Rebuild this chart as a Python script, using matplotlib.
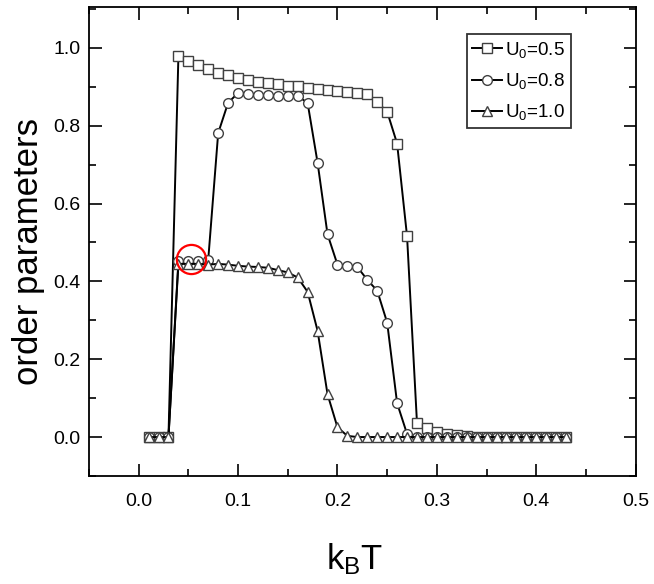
import numpy as np
import matplotlib.pyplot as plt
from matplotlib.ticker import MultipleLocator

plt.rcParams['font.family'] = ['Liberation Sans', 'DejaVu Sans']
plt.rcParams['mathtext.fontset'] = 'custom'
plt.rcParams['mathtext.rm'] = 'Liberation Sans'
plt.rcParams['mathtext.it'] = 'Liberation Sans'

kbt = [round(0.01 * i, 2) for i in range(1, 44)]

u05 = [0, 0, 0, 0.979, 0.965, 0.956, 0.945, 0.936, 0.930, 0.923,
       0.917, 0.912, 0.909, 0.906, 0.903, 0.901, 0.897, 0.894, 0.892, 0.890,
       0.887, 0.885, 0.881, 0.860, 0.836, 0.754, 0.516, 0.036, 0.024, 0.014,
       0.009, 0.005, 0.003, 0, 0, 0, 0, 0, 0, 0,
       0, 0, 0]
u08 = [0, 0, 0, 0.452, 0.452, 0.452, 0.456, 0.781, 0.859, 0.884,
       0.882, 0.880, 0.879, 0.877, 0.877, 0.877, 0.858, 0.705, 0.521, 0.443,
       0.440, 0.437, 0.404, 0.376, 0.294, 0.087, 0.008, 0, 0, 0,
       0, 0, 0, 0, 0, 0, 0, 0, 0, 0,
       0, 0, 0]
u10 = [0, 0, 0, 0.445, 0.445, 0.445, 0.443, 0.445, 0.443, 0.440,
       0.438, 0.437, 0.435, 0.429, 0.423, 0.410, 0.373, 0.273, 0.110, 0.025,
       0.003, 0, 0, 0, 0, 0, 0, 0, 0, 0,
       0, 0, 0, 0, 0, 0, 0, 0, 0, 0,
       0, 0, 0]

labels = ['U$_0$=0.5', 'U$_0$=0.8', 'U$_0$=1.0']
markers = ['s', 'o', '^']
msizes = [6.5, 7, 7.5]
mark_x, mark_y = 0.0527, 0.458


def main():
    fig = plt.figure(figsize=(6.54, 5.84), dpi=100)
    ax = fig.add_axes([0.136, 0.185, 0.836, 0.803])

    for y, m, ms, lab in zip([u05, u08, u10], markers, msizes, labels):
        ax.plot(kbt, y, color='black', lw=1.4, marker=m, markersize=ms,
                markerfacecolor='white', markeredgecolor='#404040',
                markeredgewidth=1.0, label=lab)

    # red highlight circle
    ax.plot([mark_x], [mark_y], marker='o', markersize=21,
            markerfacecolor='none', markeredgecolor='red',
            markeredgewidth=1.6, linestyle='none')

    ax.set_xlim(-0.05, 0.5)
    ax.set_ylim(-0.1, 1.105)
    ax.xaxis.set_minor_locator(MultipleLocator(0.05))
    ax.yaxis.set_minor_locator(MultipleLocator(0.1))
    ax.set_xticks([0.0, 0.1, 0.2, 0.3, 0.4, 0.5])
    ax.set_xticklabels(['0.0', '0.1', '0.2', '0.3', '0.4', '0.5'])
    ax.set_yticks([0.0, 0.2, 0.4, 0.6, 0.8, 1.0])
    ax.set_yticklabels(['0.0', '0.2', '0.4', '0.6', '0.8', '1.0'])
    ax.tick_params(which='both', direction='in', top=True, right=True,
                   labelsize=14, width=1.2)
    ax.tick_params(which='major', length=9)
    ax.tick_params(which='minor', length=5)
    ax.tick_params(axis='x', which='major', pad=12)
    ax.tick_params(axis='y', which='major', pad=6)
    for s in ax.spines.values():
        s.set_linewidth(1.3)

    ax.set_xlabel('k$_B$T', fontsize=25)
    ax.set_ylabel('order parameters', fontsize=25)
    ax.xaxis.set_label_coords(0.486, -0.14)
    ax.yaxis.set_label_coords(-0.081, 0.478)

    leg = ax.legend(loc='upper right', bbox_to_anchor=(0.881, 0.942),
                    fontsize=13.5, frameon=True, fancybox=False,
                    handlelength=1.6, handletextpad=0.15,
                    labelspacing=0.6, borderpad=0.3, borderaxespad=0)
    leg.get_frame().set_edgecolor('black')
    leg.get_frame().set_linewidth(1.3)

    fig.savefig('out.png', dpi=100)
    plt.close('all')


if __name__ == "__main__":
    main()
